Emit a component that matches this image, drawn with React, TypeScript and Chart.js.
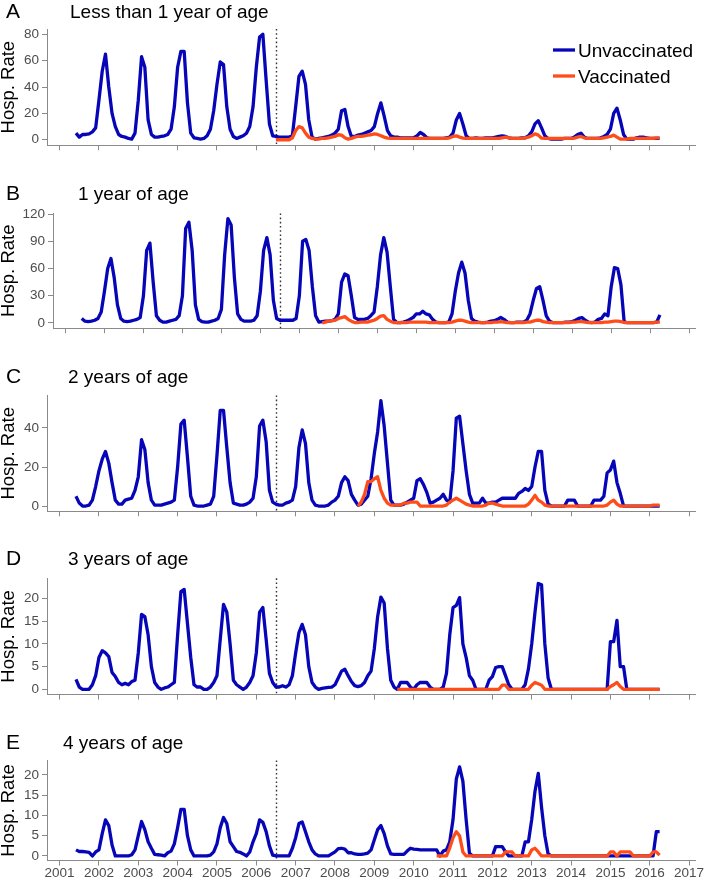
import { useEffect, useRef } from "react";
import { Chart, registerables } from "chart.js";

Chart.register(...registerables);

const FONT = "'Liberation Sans', Arial, Helvetica, sans-serif";
const BLUE = "#0606b8";
const ORANGE = "#ff4d1a";
const AXIS = "#8a8a8a";
const TICK_TEXT = "#4d4d4d";
const LINE_W = 3.3;

const YEAR_TICKS = [2001, 2002, 2003, 2004, 2005, 2006, 2007, 2008, 2009, 2010, 2011, 2012, 2013, 2014, 2015, 2016, 2017];
const VACCINE_INTRO = 2006.5;
const SERIES_LABELS = ["Unvaccinated", "Vaccinated"];
const PANEL_LETTERS = ["A", "B", "C", "D", "E"];
const PANEL_TITLES = ["Less than 1 year of age", "1 year of age", "2 years of age", "3 years of age", "4 years of age"];

// monthly values, June 2001 .. April 2016 (one row per calendar year)
const UNVAC_START: [number, number] = [2001, 6];

const A_UNVAC = [
  5, 2, 4, 4, 4.5, 6, 9,
  30, 52, 65, 40, 20, 10, 4, 2.5, 2, 1, 0.5, 5,
  30, 63, 55, 15, 4, 2, 2, 2.5, 3, 4, 8, 25,
  55, 67, 67, 28, 5, 1.5, 1, 0.5, 1, 3, 8, 22,
  42, 59, 57, 25, 8, 2.5, 1, 2, 3, 5, 10, 25,
  55, 78, 80, 45, 12, 3, 2.5, 2, 2, 2, 2, 3,
  25, 48, 52, 42, 15, 2, 0.5, 1, 1.5, 2, 2.5, 3.5,
  5, 8, 22, 23, 10, 2.5, 2.5, 3.5, 4, 5, 6, 7,
  10, 20, 28, 18, 7, 3, 2, 2, 1.5, 1.5, 1.5, 1.5,
  1.5, 3, 5.5, 4, 1.5, 1, 1, 1, 1, 1, 1.5, 2,
  5, 15, 20, 12, 3, 1, 1, 1.5, 1, 1, 1.5, 1.5,
  1.5, 2, 2.5, 3, 2.5, 1.5, 1, 1, 1, 1.5, 1.5, 3,
  6, 12, 14.5, 9, 3, 1, 0.5, 0.5, 0.5, 0.5, 1, 1,
  1, 2, 4, 5, 2, 1, 1, 1, 1, 1.5, 2.5, 4,
  8, 20, 24, 15, 4, 0.5, 0.5, 0.5, 1.5, 2, 2, 1.5,
  1, 1, 1, 1,
];
const A_VAC_START: [number, number] = [2006, 7];
const A_VAC = [
  0, 0, 0, 0, 0, 1.5,
  7, 10, 9, 5, 2, 1, 0.5, 0.5, 1, 1, 1.5, 2,
  2.5, 3.8, 3.5, 1.5, 0.5, 1, 2, 2.5, 2.5, 3, 3.5, 3.8,
  4.5, 4, 3, 2, 1.2, 1, 1, 1, 1, 1, 1, 1,
  1, 1, 1, 1, 1, 1, 1, 1, 1, 1, 1, 1.5,
  2.5, 3, 2, 1.2, 1, 1, 1, 1, 1, 1, 1, 1,
  1, 1, 1, 1.5, 2, 1.5, 1, 1, 1, 1, 1.5, 2,
  3, 4.5, 3.5, 1.2, 1, 1, 1, 1, 1, 1, 1, 1,
  1, 1.2, 2, 2.5, 1.5, 1, 1, 1, 1, 1, 1.5, 2,
  2.5, 3.5, 2, 0.5, 0.5, 0.5, 1, 1, 1, 1, 1, 1,
  1, 1, 1.5, 1.5,
];

const B_UNVAC = [
  5, 2, 1.5, 2, 3, 5, 12,
  35, 60, 71, 50, 20, 5, 2, 1.5, 2, 3, 4, 6,
  30, 80, 88, 45, 8, 3, 1, 1, 2, 3, 4, 8,
  30, 104, 111, 80, 20, 4, 1.5, 1, 1, 2, 3, 5,
  15, 75, 115, 108, 50, 10, 4, 2, 2, 2, 3, 8,
  35, 80, 94, 75, 25, 5, 3, 3, 3, 3, 3, 5,
  30, 90, 92, 80, 40, 8, 1, 1.5, 2, 2, 2.5, 4,
  10, 45, 54, 52, 30, 6, 4, 4, 4, 5, 8, 12,
  40, 75, 94, 78, 40, 4, 0.5, 0.5, 1, 2, 4, 6,
  10, 10, 13, 10, 9, 4, 1, 0.5, 0.5, 0.5, 1, 10,
  35, 55, 67, 55, 25, 5, 2, 1, 0.5, 0.5, 1, 2,
  2.5, 4, 6, 4, 1, 0.5, 0.5, 1, 1, 1, 3, 10,
  25, 38, 40, 25, 8, 2, 0.5, 0.5, 0.5, 0.5, 1, 1,
  1.5, 3, 5, 6, 3, 1, 0.5, 1, 4, 5, 10, 8,
  40, 61, 60, 42, 1, 0.5, 0.5, 0.5, 0.5, 0.5, 0.5, 0.5,
  0.5, 0.5, 1, 9,
];
const B_VAC_START: [number, number] = [2007, 8];
const B_VAC = [
  0, 1, 2, 2.5, 3,
  5, 6, 7, 4, 2, 0.5, 0.5, 1, 1, 1, 2, 3,
  5, 7.5, 8, 4, 2, 0.5, 0.5, 0.5, 0.5, 0.5, 1, 1,
  1, 1, 1, 1, 0.5, 0.5, 0.5, 0.5, 0.5, 0.5, 0.5, 1,
  2, 3, 3, 2, 1, 0.5, 0.5, 0.5, 0.5, 0.5, 0.5, 0.5,
  1, 1, 1.5, 1, 0.5, 0.5, 0.5, 0.5, 0.5, 0.5, 1, 1,
  2, 3, 3, 1.5, 1, 0.5, 0.5, 0.5, 0.5, 0.5, 0.5, 0.5,
  1, 1, 1.5, 1.5, 1, 0.5, 0.5, 0.5, 0.5, 0.5, 1, 1,
  1.5, 2, 2, 1.5, 0.5, 0.5, 0.5, 0.5, 0.5, 0.5, 0.5, 0.5,
  0.5, 0.5, 1, 1,
];

const C_UNVAC = [
  5, 1.5, 0, 0, 0.5, 3, 10,
  18, 24, 28, 22, 12, 3, 1, 1, 3, 3.5, 4, 8,
  15, 34, 29, 12, 3, 0.5, 0.5, 0.5, 1, 1.5, 2, 3,
  20, 42, 44, 25, 5, 0.5, 0, 0, 0, 0.5, 1, 5,
  26, 49, 49, 30, 12, 1.5, 1, 0.5, 0.5, 1, 2, 4,
  15, 41, 44, 33, 8, 2, 1, 0.5, 0.5, 1.5, 2, 3,
  10, 30, 39, 32, 12, 3, 0.5, 0, 0, 0, 0.5, 2,
  3, 5, 12, 15, 13, 6, 3, 0.5, 1, 3, 5, 14,
  27, 38, 54, 41, 22, 3, 0.5, 0.5, 0.5, 1, 2, 3,
  4, 13, 14, 11, 7, 1.5, 2, 3, 4, 6, 3, 2,
  18, 45, 46, 32, 18, 6, 1.5, 1.5, 1.5, 4, 1.5, 1.5,
  2, 2, 3, 4, 4, 4, 4, 4, 6.5, 7.5, 9, 8,
  10, 20, 28, 28, 8, 1, 0, 0, 0, 0, 0, 3,
  3, 3, 0, 0, 0, 0, 0, 3, 3, 3, 5, 17,
  18.5, 23, 12, 6.5, 0, 0, 0, 0, 0, 0, 0, 0,
  0, 0, 0, 0,
];
const C_VAC_START: [number, number] = [2008, 8];
const C_VAC = [
  0, 2, 6, 12.5, 12.5,
  14, 15, 8, 4, 1.5, 0.5, 0.5, 0.5, 0.5, 1.5, 1.5, 2,
  2, 2, 0, 0, 0, 0, 0, 0, 0, 0, 0.5, 2,
  3, 4, 3, 2, 1, 0.5, 0, 0, 0, 0, 0.5, 1.5,
  1.5, 1, 0.5, 0, 0, 0, 0, 0, 0, 0, 0, 1,
  3, 5.5, 3, 2, 0.5, 0, 0, 0, 0, 0, 0, 0,
  0, 0, 0, 0, 0, 0, 0, 0, 0, 0, 0, 0.5,
  2, 3, 1, 0, 0, 0, 0, 0, 0, 0, 0, 0,
  0, 0.5, 0.5, 0.5,
];

const D_UNVAC = [
  2.2, 0.5, 0, 0, 0, 1, 3,
  7, 8.5, 8, 7.2, 3.7, 2.8, 1.5, 1, 1.3, 1, 1.7, 2,
  8, 16.5, 16, 12, 5, 1.5, 0.5, 0, 0.3, 0.5, 1, 1.5,
  12, 21.5, 22, 14.5, 7, 1, 0.5, 0.5, 0, 0, 0.5, 1.5,
  3, 11, 18.7, 17, 10, 2, 1, 0.5, 0, 0.5, 1.5, 3,
  8, 17, 18, 11, 3.5, 1.5, 0.5, 0.5, 0.8, 0.5, 1, 3,
  8, 12.5, 14.3, 12, 5, 1.5, 0.5, 0, 0.2, 0.3, 0.4, 0.5,
  1, 2.5, 4, 4.4, 3, 1.7, 0.8, 0.6, 0.8, 1.5, 3, 4,
  9, 16, 20.3, 19, 9, 2, 0.5, 0, 1.5, 1.5, 1.5, 0.5,
  0, 1, 1.5, 1.5, 1.5, 0.5, 0, 0, 0, 0.5, 3.5, 12,
  18, 18.5, 20.2, 10, 7, 3, 2, 0, 0, 0, 0, 2,
  2.8, 4.8, 5, 5, 3, 1, 0, 0, 0, 0, 1, 4.5,
  10, 17, 23.3, 23, 10, 2.5, 0, 0, 0, 0, 0, 0,
  0, 0, 0, 0, 0, 0, 0, 0, 0, 0, 0, 0,
  10.5, 10.5, 15.2, 5, 5, 0, 0, 0, 0, 0, 0, 0,
  0, 0, 0, 0,
];
const D_VAC_START: [number, number] = [2009, 8];
const D_VAC = [
  0, 0, 0, 0, 0,
  0, 0, 0, 0, 0, 0, 0, 0, 0, 0, 0, 0,
  0, 0, 0, 0, 0, 0, 0, 0, 0, 0, 0, 0,
  0, 0, 0, 0.9, 0.9, 0, 0, 0, 0, 0, 0, 0,
  0.9, 1.5, 1.2, 0.9, 0, 0, 0, 0, 0, 0, 0, 0,
  0, 0, 0, 0, 0, 0, 0, 0, 0, 0, 0, 0,
  0.6, 1, 1.5, 0.6, 0, 0, 0, 0, 0, 0, 0, 0,
  0, 0, 0, 0,
];

const E_UNVAC = [
  1.5, 1.1, 1.1, 1, 0.9, 0, 1,
  1.5, 5.5, 8.9, 7.5, 2.7, 0, 0, 0, 0, 0, 0.3, 1.5,
  5, 8.5, 6.5, 3.5, 1.9, 0.4, 0.3, 0.2, 0, 0.8, 1.2, 3,
  7, 11.5, 11.5, 5, 1.5, 0, 0, 0, 0, 0, 0.2, 1,
  3, 7, 9.5, 8, 3.5, 2.3, 1.1, 0.9, 0.5, 0, 1, 3.5,
  5.5, 8.9, 8.3, 6, 2.5, 0.2, 0, 0, 0, 0, 0, 1.9,
  4.5, 8, 8.4, 6, 3.5, 1.5, 0.5, 0, 0, 0, 0, 0.5,
  1, 1.8, 1.9, 1.7, 0.8, 0.8, 0.5, 0.4, 0.4, 0.5, 0.7, 1.5,
  4, 6.5, 7.5, 5.5, 2.5, 0.5, 0.4, 0.4, 0.4, 0.4, 1.2, 1.9,
  1.7, 1.6, 1.5, 1.5, 1.5, 1.5, 1.5, 1.5, 0, 1.2, 1.5, 3.5,
  9, 19, 22, 18.5, 9, 0.7, 0, 0, 0, 0, 0, 0,
  0, 2.3, 2.3, 2.3, 1, 0, 0, 0, 0, 0, 3.5, 3.5,
  9, 16, 20.4, 12, 5, 0.5, 0, 0, 0, 0, 0, 0,
  0, 0, 0, 0, 0, 0, 0, 0, 0, 0, 0, 0,
  0, 0, 0, 0, 0, 0, 0, 0, 0, 0, 0, 0,
  0, 0, 6, 6,
];
const E_VAC_START: [number, number] = [2010, 8];
const E_VAC = [
  0, 0, 0, 0, 2,
  4.5, 6, 5, 1, 0, 0, 0, 0, 0, 0, 0, 0,
  0, 0, 0, 0, 1, 1, 1, 0, 0, 0, 0, 0,
  1.5, 1.9, 1, 0, 0, 0, 0, 0, 0, 0, 0, 0,
  0, 0, 0, 0, 0, 0, 0, 0, 0, 0, 0, 0,
  1, 1, 0, 1, 1, 1, 1, 0, 0, 0, 0, 0,
  0, 1, 1, 0.2,
];

const Y_TICKS_A = [0, 20, 40, 60, 80];
const Y_TICKS_B = [0, 30, 60, 90, 120];
const Y_TICKS_C = [0, 20, 40];
const Y_TICKS_D = [0, 5, 10, 15, 20];
const Y_TICKS_E = [0, 5, 10, 15, 20];

type Panel = {
  idx: number;
  top: number;
  height: number;
  plotTop: number;
  plotBottom: number;
  plotLeft: number;
  baseline: number;
  titleX: number;
  yMin: number;
  yMax: number;
  yTicks: number[];
  unvac: number[];
  vacStart: [number, number];
  vac: number[];
  xLabels: boolean;
  legend: boolean;
};

const PANELS: Panel[] = [
  { idx: 0, top: 0, height: 155, plotTop: 29, plotBottom: 145.3, plotLeft: 47, baseline: 17.5, titleX: 70, yMin: -4.2, yMax: 84, yTicks: Y_TICKS_A, unvac: A_UNVAC, vacStart: A_VAC_START, vac: A_VAC, xLabels: false, legend: true },
  { idx: 1, top: 155, height: 181, plotTop: 213.4, plotBottom: 328.2, plotLeft: 53, baseline: 200, titleX: 78, yMin: -5.75, yMax: 120.75, yTicks: Y_TICKS_B, unvac: B_UNVAC, vacStart: B_VAC_START, vac: B_VAC, xLabels: false, legend: false },
  { idx: 2, top: 336, height: 182, plotTop: 395.4, plotBottom: 511.3, plotLeft: 47, baseline: 383, titleX: 68, yMin: -2.7, yMax: 56.7, yTicks: Y_TICKS_C, unvac: C_UNVAC, vacStart: C_VAC_START, vac: C_VAC, xLabels: false, legend: false },
  { idx: 3, top: 518, height: 182, plotTop: 578.3, plotBottom: 694.6, plotLeft: 47, baseline: 565, titleX: 68, yMin: -1.17, yMax: 24.45, yTicks: Y_TICKS_D, unvac: D_UNVAC, vacStart: D_VAC_START, vac: D_VAC, xLabels: false, legend: false },
  { idx: 4, top: 700, height: 179, plotTop: 760.4, plotBottom: 860.5, plotLeft: 47, baseline: 749, titleX: 63, yMin: -1.12, yMax: 23.6, yTicks: Y_TICKS_E, unvac: E_UNVAC, vacStart: E_VAC_START, vac: E_VAC, xLabels: true, legend: false },
];

function toPoints(start: [number, number], values: number[]) {
  const t0 = start[0] + (start[1] - 1) / 12;
  return values.map((v, i) => ({ x: t0 + i / 12, y: v }));
}

function overlayPlugin(p: Panel) {
  return {
    id: "overlay" + p.idx,
    beforeDatasetsDraw(chart: any) {
      const { ctx, chartArea, scales } = chart;
      const x = Math.round(scales.x.getPixelForValue(VACCINE_INTRO)) + 0.5;
      ctx.save();
      ctx.setLineDash([1.6, 2.6]);
      ctx.strokeStyle = "#333";
      ctx.lineWidth = 1.4;
      ctx.beginPath();
      ctx.moveTo(x, chartArea.top);
      ctx.lineTo(x, chartArea.bottom);
      ctx.stroke();
      ctx.restore();
    },
    afterDraw(chart: any) {
      const { ctx, chartArea } = chart;
      const base = p.baseline - p.top;
      ctx.save();
      ctx.fillStyle = "#000";
      ctx.textAlign = "left";
      ctx.textBaseline = "alphabetic";
      ctx.font = `21px ${FONT}`;
      ctx.fillText(PANEL_LETTERS[p.idx], 6, base);
      ctx.font = `19px ${FONT}`;
      ctx.fillText(PANEL_TITLES[p.idx], p.titleX, base);
      const cy = (chartArea.top + chartArea.bottom) / 2;
      ctx.save();
      ctx.translate(14, cy);
      ctx.rotate(-Math.PI / 2);
      ctx.textAlign = "center";
      ctx.font = `18.5px ${FONT}`;
      ctx.fillText("Hosp. Rate", 0, 0);
      ctx.restore();
      if (p.legend) {
        const rows = [
          { y: 50, base: 57.3, color: BLUE, label: SERIES_LABELS[0] },
          { y: 76, base: 82.7, color: ORANGE, label: SERIES_LABELS[1] },
        ];
        for (const r of rows) {
          ctx.strokeStyle = r.color;
          ctx.lineWidth = LINE_W;
          ctx.beginPath();
          ctx.moveTo(553, r.y - p.top);
          ctx.lineTo(575, r.y - p.top);
          ctx.stroke();
          ctx.fillStyle = "#000";
          ctx.font = `19px ${FONT}`;
          ctx.textAlign = "left";
          ctx.fillText(r.label, 578, r.base - p.top);
        }
      }
      ctx.restore();
    },
  };
}

function zeroPadding(scale: any) {
  scale.paddingLeft = 0;
  scale.paddingRight = 0;
  scale.paddingTop = 0;
  scale.paddingBottom = 0;
}

function PanelChart({ p }: { p: Panel }) {
  const ref = useRef<HTMLCanvasElement | null>(null);
  useEffect(() => {
    if (!ref.current) return;
    const xAxisHeight = p.top + p.height - p.plotBottom;
    const chart = new Chart(ref.current, {
      type: "line",
      data: {
        datasets: [
          {
            label: SERIES_LABELS[1],
            data: toPoints(p.vacStart, p.vac),
            borderColor: ORANGE,
            backgroundColor: ORANGE,
            borderWidth: LINE_W,
            pointRadius: 0,
            tension: 0,
            borderJoinStyle: "round",
            order: 0,
          },
          {
            label: SERIES_LABELS[0],
            data: toPoints(UNVAC_START, p.unvac),
            borderColor: BLUE,
            backgroundColor: BLUE,
            borderWidth: LINE_W,
            pointRadius: 0,
            tension: 0,
            borderJoinStyle: "round",
            order: 1,
          },
        ],
      },
      options: {
        responsive: false,
        animation: false,
        devicePixelRatio: 1,
        events: [],
        layout: { padding: { top: p.plotTop - p.top, right: 10, left: 0, bottom: 0 } },
        plugins: { legend: { display: false }, tooltip: { enabled: false }, title: { display: false } },
        scales: {
          x: {
            type: "linear",
            min: 2000.68,
            max: 2017.15,
            afterBuildTicks: (s: any) => {
              s.ticks = YEAR_TICKS.map((v) => ({ value: v }));
            },
            afterFit: (s: any) => {
              s.height = xAxisHeight;
              zeroPadding(s);
            },
            grid: { display: true, drawOnChartArea: false, drawTicks: true, tickLength: 5, color: AXIS, lineWidth: 1 },
            border: { display: true, color: AXIS, width: 1 },
            ticks: {
              display: p.xLabels,
              autoSkip: false,
              maxRotation: 0,
              minRotation: 0,
              padding: 0,
              color: TICK_TEXT,
              font: { family: FONT, size: 13.5 },
              callback: (v: any) => String(v),
            },
          },
          y: {
            type: "linear",
            min: p.yMin,
            max: p.yMax,
            afterBuildTicks: (s: any) => {
              s.ticks = p.yTicks.map((v) => ({ value: v }));
            },
            afterFit: (s: any) => {
              s.width = p.plotLeft;
              zeroPadding(s);
            },
            grid: { display: true, drawOnChartArea: false, drawTicks: true, tickLength: 5, color: AXIS, lineWidth: 1 },
            border: { display: true, color: AXIS, width: 1 },
            ticks: {
              padding: 3,
              color: TICK_TEXT,
              font: { family: FONT, size: 13.5 },
              callback: (v: any) => String(v),
            },
          },
        },
      },
      plugins: [overlayPlugin(p)],
    } as any);
    return () => chart.destroy();
  }, [p]);
  return (
    <canvas
      ref={ref}
      width={705}
      height={p.height}
      style={{ position: "absolute", left: 0, top: p.top, width: 705, height: p.height, display: "block" }}
    />
  );
}

export default function App() {
  return (
    <div style={{ position: "absolute", left: 0, top: 0, width: 705, height: 879, background: "#fff", overflow: "hidden" }}>
      {PANELS.map((p) => (
        <PanelChart key={p.idx} p={p} />
      ))}
    </div>
  );
}
